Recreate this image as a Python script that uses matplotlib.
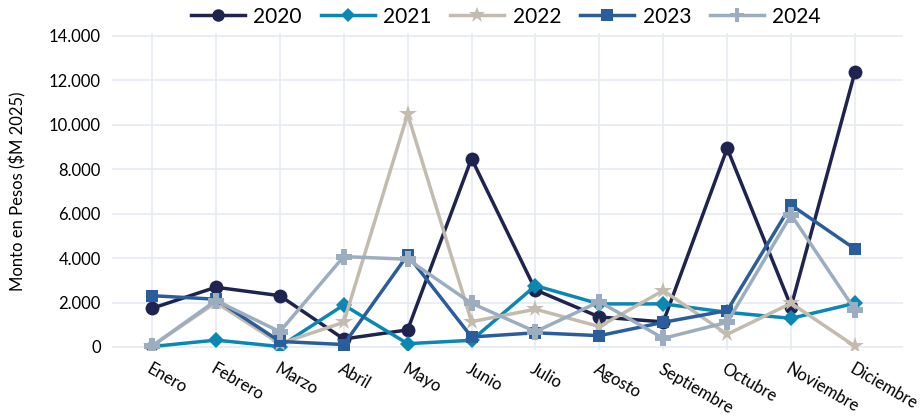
import matplotlib
matplotlib.use("Agg")
import matplotlib.pyplot as plt
from matplotlib.ticker import FuncFormatter

meses = ["Enero", "Febrero", "Marzo", "Abril", "Mayo", "Junio", "Julio",
         "Agosto", "Septiembre", "Octubre", "Noviembre", "Diciembre"]

v2020 = [1740, 2690, 2310, 360, 770, 8480, 2570, 1350, 1130, 8940, 1820, 12390]
v2021 = [20, 310, 20, 1890, 150, 300, 2760, 1940, 1940, 1560, 1290, 1970]
v2022 = [40, 2000, 150, 1110, 10480, 1140, 1700, 920, 2540, 570, 1970, 30]
v2023 = [2310, 2150, 250, 110, 4140, 450, 640, 510, 1110, 1640, 6390, 4410]
v2024 = [40, 2090, 690, 4070, 3950, 1970, 690, 2040, 390, 1110, 5950, 1670]

series = [
    ("2020", v2020, "#1f2350", "o", 10),
    ("2021", v2021, "#0b87b4", "D", 8),
    ("2022", v2022, "#c3bbad", "*", 13),
    ("2023", v2023, "#2a5d9c", "s", 9),
    ("2024", v2024, "#9badbf", "P", 11),
]

plt.rcParams['font.family'] = ['Lato', 'DejaVu Sans']

fig = plt.figure(figsize=(9.23, 4.17), dpi=100)
ax = fig.add_axes([0.1213, 0.1607, 0.857, 0.7602])

x = list(range(len(meses)))
for name, vals, color, mk, ms in series:
    ax.plot(x, vals, color=color, marker=mk, markersize=ms, linewidth=2.5,
            label=name, markeredgewidth=0)

ax.set_xlim(-0.626, 11.75)
ax.set_ylim(-135, 14135)
ax.set_yticks(range(0, 14001, 2000))
ax.yaxis.set_major_formatter(FuncFormatter(lambda v, p: f"{int(v):,}".replace(",", ".")))
ax.set_xticks(x)
ax.set_xticklabels(meses, rotation=-30, ha="left", va="top", rotation_mode="anchor", fontsize=12)
for lab in ax.get_yticklabels():
    lab.set_fontsize(12)
ax.tick_params(axis="both", length=0, pad=8)
ax.tick_params(axis="x", pad=8)
ax.grid(True, color="#e6eaf2", linewidth=1.2)
ax.set_axisbelow(True)
for s in ax.spines.values():
    s.set_visible(False)
ax.set_ylabel("Monto en Pesos ($M 2025)", fontsize=12, labelpad=16)

leg = fig.legend(loc="center", bbox_to_anchor=(0.548, 0.96), ncol=5, frameon=False,
                 fontsize=15, handlelength=2.6, columnspacing=0.9, handletextpad=0.4,
                 markerscale=0.9)

fig.savefig("out.png", dpi=100)
